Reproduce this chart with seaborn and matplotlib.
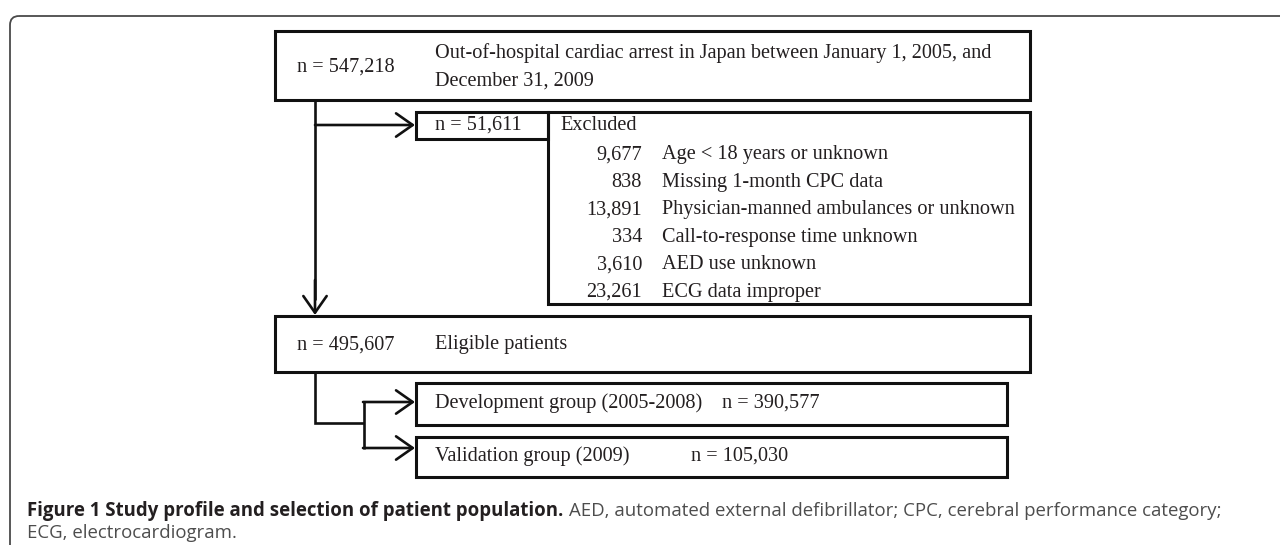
import matplotlib
matplotlib.use("Agg")
import matplotlib.pyplot as plt
from matplotlib.patches import Rectangle, FancyBboxPatch
import seaborn as sns

# Data of the flow chart
total_n = 547218
total_label = ["Out-of-hospital cardiac arrest in Japan between January 1, 2005, and",
               "December 31, 2009"]
excluded_n = 51611
exclusion_counts = [9677, 838, 13891, 334, 3610, 23261]
exclusion_reasons = ["Age < 18 years or unknown",
                     "Missing 1-month CPC data",
                     "Physician-manned ambulances or unknown",
                     "Call-to-response time unknown",
                     "AED use unknown",
                     "ECG data improper"]
eligible_n = 495607
group_names = ["Development group (2005-2008)", "Validation group (2009)"]
group_n = [390577, 105030]
caption_bold = "Figure 1 Study profile and selection of patient population."
caption_rest = "AED, automated external defibrillator; CPC, cerebral performance category;"
caption_line2 = "ECG, electrocardiogram."

sns.set_theme(style="white")
plt.rcParams["font.family"] = ["Liberation Serif", "DejaVu Serif"]

W, H = 1280, 545
fig = plt.figure(figsize=(W / 100, H / 100), dpi=100)
ax = fig.add_axes([0, 0, 1, 1])
ax.set_xlim(0, W)
ax.set_ylim(H, 0)
ax.axis("off")

BOX_LW = 2.2
LINE_LW = 1.9
FS = 14.6


def box(x0, y0, x1, y1):
    ax.add_patch(Rectangle((x0, y0), x1 - x0, y1 - y0, fill=False,
                           edgecolor="#111111", lw=BOX_LW, zorder=3))


def line(xs, ys):
    ax.plot(xs, ys, color="#111111", lw=LINE_LW, solid_capstyle="butt",
            solid_joinstyle="miter", zorder=2)


def arrow(x0, y0, x1, y1):
    ax.annotate("", xy=(x1, y1), xytext=(x0, y0),
                arrowprops=dict(arrowstyle="->,head_length=0.6,head_width=0.42",
                                lw=LINE_LW, color="#111111",
                                shrinkA=0, shrinkB=0, mutation_scale=20),
                zorder=2)


def txt(x, y, s, ha="left", **kw):
    ax.text(x, y, s, ha=ha, va="center", fontsize=FS, color="#231f20", **kw)


# outer frame (only top-left corner visible)
ax.add_patch(FancyBboxPatch((10, 16), 1400, 700,
                            boxstyle="round,pad=0,rounding_size=9",
                            fill=False, edgecolor="#4a4a4a", lw=1.3, zorder=1))

# top box
box(275, 31, 1030, 100)
txt(297, 67, f"n = {total_n:,}")
txt(435, 53, total_label[0])
txt(435, 81, total_label[1])

# excluded boxes
box(416, 112, 548, 139)
box(548, 112, 1030, 304)
txt(435, 125, f"n = {excluded_n:,}")
txt(560, 125, "Excluded")
for i, (c, r) in enumerate(zip(exclusion_counts, exclusion_reasons)):
    y = 155 + i * 27.4
    txt(642, y, f"{c:,}", ha="right")
    txt(662, y, r)

# eligible box
box(275, 316, 1030, 372)
txt(297, 345, f"n = {eligible_n:,}")
txt(435, 345, "Eligible patients")

# group boxes
group_y = [(383, 425), (437, 477)]
group_num_x = [722, 691]
for (y0, y1), name, n, nx in zip(group_y, group_names, group_n, group_num_x):
    box(416, y0, 1007, y1)
    yc = (y0 + y1) / 2 - 1
    txt(435, yc, name)
    txt(nx, yc, f"n = {n:,}")

# connectors
line([315, 315], [100, 300])
arrow(315, 280, 315, 315)
arrow(315, 125, 415, 125)
line([315, 315, 364], [372, 423, 423])
line([364, 364], [401, 449])
arrow(363, 402, 415, 402)
arrow(363, 448, 415, 448)

# caption
cap_font = ["Open Sans", "DejaVu Sans"]
CAP_FS = 13.4
t = ax.text(27, 511, caption_bold, ha="left", va="center", fontsize=CAP_FS,
            fontweight="bold", color="#231f20", family=cap_font)
fig.canvas.draw()
x_end = ax.transData.inverted().transform((t.get_window_extent().x1 + 6, 0))[0]
ax.text(x_end, 511, caption_rest, ha="left", va="center", fontsize=CAP_FS,
        color="#4d4d4d", family=cap_font)
ax.text(27, 533, caption_line2, ha="left", va="center", fontsize=CAP_FS,
        color="#4d4d4d", family=cap_font)

fig.savefig("out.png", dpi=100)
